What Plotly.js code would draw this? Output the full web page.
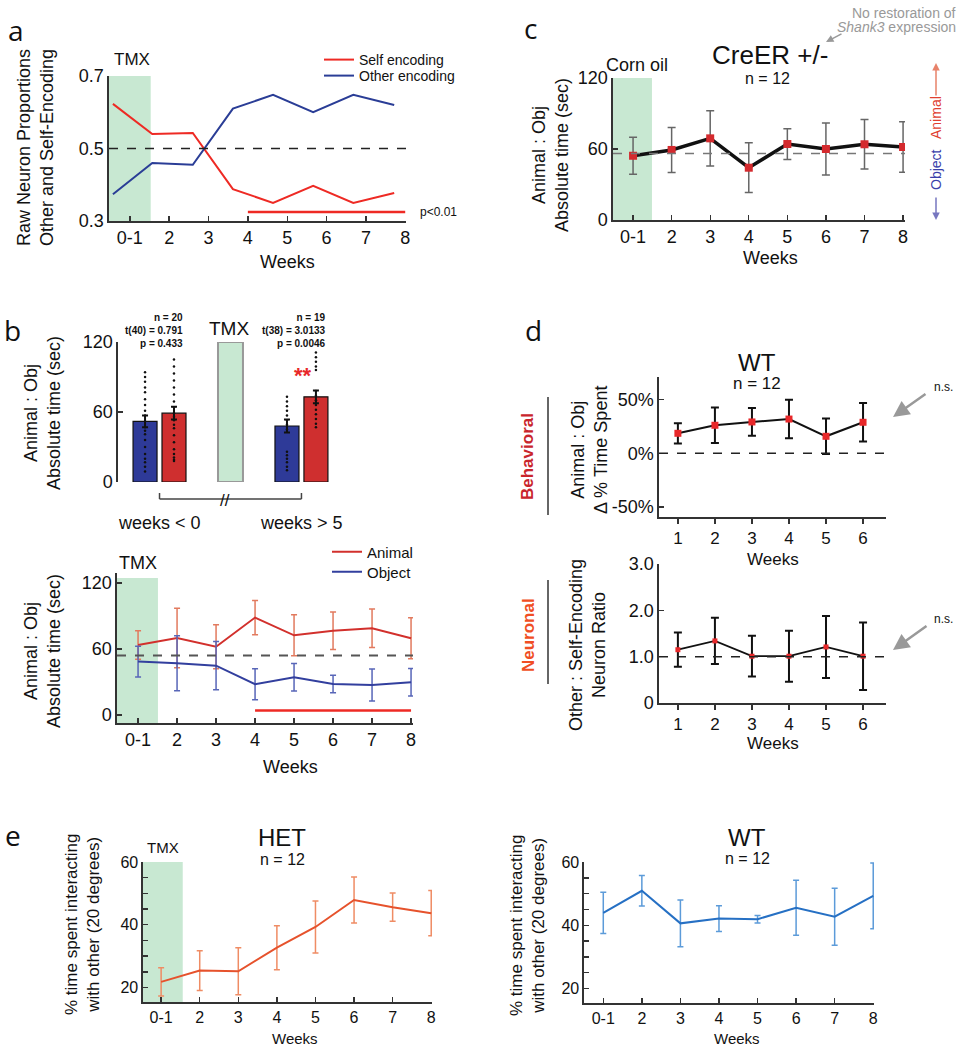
<!DOCTYPE html>
<html>
<head>
<meta charset="utf-8">
<script src="https://cdn.plot.ly/plotly-3.0.1.min.js"></script>
<style>
  html, body { margin: 0; padding: 0; background: #fff; }
  #fig { width: 964px; height: 1050px; }
</style>
</head>
<body>
<div id="fig"></div>
<script>
// shared week axis
var weekLabels = ['0-1', '2', '3', '4', '5', '6', '7', '8'];
var weekPos = [1, 2, 3, 4, 5, 6, 7, 8];
var dWeeks = [1, 2, 3, 4, 5, 6];

// a: raw neuron proportions (vertices sit a bit left of the ticks)
var weeksA = [0.57, 1.57, 2.6, 3.62, 4.64, 5.66, 6.68, 7.72];
var selfEncoding = [0.623, 0.540, 0.543, 0.388, 0.350, 0.397, 0.350, 0.377];
var otherEncoding = [0.374, 0.460, 0.455, 0.610, 0.648, 0.600, 0.648, 0.620];

// b top: bars before / after TMX
var groupsB = ['weeks &lt; 0', 'weeks &gt; 5'];
var objectMeanB = [52, 48];
var objectSemB = [5, 5.5];
var animalMeanB = [59, 73];
var animalSemB = [5.5, 5.5];
var objectPre = [94, 90, 86, 81, 77, 71, 66, 61, 57, 52, 47, 44, 41, 36, 30, 24, 20, 17, 13, 9];
var animalPre = [105, 99, 93, 87, 81, 75, 69, 64, 59, 56, 53, 49, 46, 40, 34, 28, 24, 21, 19, 18];
var objectPost = [73, 69, 65, 61, 57, 53, 49, 45, 26, 23, 20, 17, 13, 10];
var animalPost = [111, 107, 103, 99, 96, 78, 74, 70, 66, 62, 58, 54, 50, 47];

// b bottom: weekly animal / object time
var animalB2 = [63.6, 70, 62, 88.5, 72.4, 76.6, 78.8, 69.7];
var animalErrB2 = [13, 27, 20, 15.6, 18.7, 17, 17.5, 18.7];
var objectB2 = [48.5, 47, 44.8, 27.9, 34.3, 28.2, 27.3, 29.7];
var objectErrB2 = [14, 25, 22, 14, 12.5, 8, 14.5, 12.5];

// c: CreER +/- corn oil
var creMean = [54.3, 59.2, 69, 44.2, 64.2, 60, 64, 61.7];
var creErr = [15.7, 19, 23.4, 21, 13, 22, 21, 21.3];

// d: WT behavioural / neuronal
var wtBehav = [18.7, 26.2, 29.3, 32, 15.9, 29];
var wtBehavErr = [9.5, 16.5, 13, 18, 16.6, 18];
var wtNeuron = [1.15, 1.34, 1.01, 1.01, 1.21, 1.01];
var wtNeuronErr = [0.37, 0.5, 0.44, 0.55, 0.67, 0.73];

// e: % time interacting
var hetTime = [21.8, 25.4, 25.2, 32.7, 39.3, 47.9, 45.6, 43.7];
var hetErr = [4.5, 6.3, 7.5, 7, 8.3, 7.3, 4.5, 7.2];
var wtTime = [43.9, 50.9, 40.6, 42.1, 41.9, 45.5, 42.7, 49.3];
var wtErr = [6.5, 4.8, 7.4, 4.1, 1.2, 8.7, 9, 10.4];

// chance levels / significance windows
var chanceA = 0.5, chanceB2 = 54, chanceC = 56.3;
var sigWeeks = [4, 8];

var W = 964, H = 1050;
function px(x) { return x / W; }
function py(y) { return 1 - y / H; }
function xdom(a, b) { return [px(a), px(b)]; }
function ydom(top, bottom) { return [py(bottom), py(top)]; }

var GREEN = '#c8e8d2';

function ax(extra) {
  var base = {
    showgrid: false, zeroline: false, showline: true,
    linecolor: '#333', linewidth: 1.6,
    ticks: 'inside', ticklen: 5, tickwidth: 1.4, tickcolor: '#333',
    tickfont: {size: 18, color: '#111'},
    fixedrange: true
  };
  return Object.assign(base, extra);
}

function dots(vals, pos) {
  return {
    x: vals.map(function () { return pos; }), y: vals,
    xaxis: 'x2', yaxis: 'y2', mode: 'markers', showlegend: false,
    marker: {size: 2.5, color: '#111'}, hoverinfo: 'skip'
  };
}

var barW = 0.338, dotOff = 0.204;

var traces = [
  // a
  {x: weeksA, y: selfEncoding, xaxis: 'x', yaxis: 'y', mode: 'lines', name: 'Self encoding',
   legend: 'legend', line: {color: '#ee2a24', width: 2}},
  {x: weeksA, y: otherEncoding, xaxis: 'x', yaxis: 'y', mode: 'lines', name: 'Other encoding',
   legend: 'legend2', line: {color: '#2a3d96', width: 2}},

  // b top
  {type: 'bar', x: [0, 2], y: objectMeanB, xaxis: 'x2', yaxis: 'y2', width: barW, offset: -0.373,
   marker: {color: '#2e3a98', line: {color: '#111', width: 1.2}}, showlegend: false,
   error_y: {type: 'data', array: objectSemB, color: '#111', thickness: 2, width: 3}},
  {type: 'bar', x: [0, 2], y: animalMeanB, xaxis: 'x2', yaxis: 'y2', width: barW, offset: 0.035,
   marker: {color: '#cf2f2f', line: {color: '#111', width: 1.2}}, showlegend: false,
   error_y: {type: 'data', array: animalSemB, color: '#111', thickness: 2, width: 3}},
  dots(objectPre, 0 - dotOff), dots(animalPre, 0 + dotOff),
  dots(objectPost, 2 - dotOff), dots(animalPost, 2 + dotOff),

  // b bottom
  {x: weekPos, y: animalB2, xaxis: 'x3', yaxis: 'y3', mode: 'lines', name: 'Animal', legend: 'legend3',
   line: {color: '#d2302c', width: 2},
   error_y: {type: 'data', array: animalErrB2, color: '#e27a5e', thickness: 1.5, width: 3}},
  {x: weekPos, y: objectB2, xaxis: 'x3', yaxis: 'y3', mode: 'lines', name: 'Object', legend: 'legend4',
   line: {color: '#323f9e', width: 2},
   error_y: {type: 'data', array: objectErrB2, color: '#5866b8', thickness: 1.5, width: 3}},

  // c
  {x: weekPos, y: creMean, xaxis: 'x4', yaxis: 'y4', mode: 'lines+markers', showlegend: false,
   line: {color: '#111', width: 3.5}, marker: {symbol: 'square', size: 8, color: '#d42a2e'},
   error_y: {type: 'data', array: creErr, color: '#666', thickness: 1.5, width: 4}},

  // d
  {x: dWeeks, y: wtBehav, xaxis: 'x5', yaxis: 'y5', mode: 'lines+markers', showlegend: false,
   line: {color: '#111', width: 2}, marker: {symbol: 'square', size: 7, color: '#e8282a'},
   error_y: {type: 'data', array: wtBehavErr, color: '#111', thickness: 2, width: 4}},
  {x: dWeeks, y: wtNeuron, xaxis: 'x6', yaxis: 'y6', mode: 'lines+markers', showlegend: false,
   line: {color: '#111', width: 1.8}, marker: {symbol: 'square', size: 5, color: '#e8282a'},
   error_y: {type: 'data', array: wtNeuronErr, color: '#111', thickness: 2, width: 4}},

  // e
  {x: weekPos, y: hetTime, xaxis: 'x7', yaxis: 'y7', mode: 'lines', showlegend: false,
   line: {color: '#e6522c', width: 2},
   error_y: {type: 'data', array: hetErr, color: '#ef8c64', thickness: 1.5, width: 3}},
  {x: weekPos, y: wtTime, xaxis: 'x8', yaxis: 'y8', mode: 'lines', showlegend: false,
   line: {color: '#2670c4', width: 2},
   error_y: {type: 'data', array: wtErr, color: '#5c9bd9', thickness: 1.5, width: 3}}
];

function txt(x, y, text, size, extra) {
  return Object.assign({
    xref: 'paper', yref: 'paper', x: px(x), y: py(y), text: text, showarrow: false,
    xanchor: 'center', yanchor: 'middle', font: {size: size, color: '#111'}
  }, extra || {});
}
function arrow(x, y, fromX, fromY, color, w, size) {
  return {
    xref: 'paper', yref: 'paper', x: px(x), y: py(y), axref: 'pixel', ayref: 'pixel',
    ax: fromX - x, ay: fromY - y, text: '', showarrow: true,
    arrowhead: 2, arrowsize: size || 1, arrowwidth: w, arrowcolor: color
  };
}
var LETTER = {family: 'Open Sans, sans-serif', size: 28, color: '#111'};
var vert = {textangle: -90};

var annotations = [
  // a
  txt(16, 30, 'a', 28, {font: LETTER}),
  txt(132, 59, 'TMX', 17),
  txt(35, 148, 'Raw Neuron Proportions<br>Other and Self-Encoding', 18, vert),
  txt(287, 262, 'Weeks', 18),
  txt(418, 212, 'p&lt;0.01', 12, {xanchor: 'left'}),

  // b top
  txt(12, 330, 'b', 28, {font: LETTER}),
  txt(42, 413, 'Animal : Obj<br>Absolute time (sec)', 18, vert),
  txt(185, 330, '<b>n = 20<br>t(40) = 0.791<br>p = 0.433</b>', 10, {xanchor: 'right', align: 'right'}),
  txt(328, 330, '<b>n = 19<br>t(38) = 3.0133<br>p = 0.0046</b>', 10, {xanchor: 'right', align: 'right'}),
  txt(229, 328, 'TMX', 19),
  txt(303, 376, '<b>**</b>', 22, {font: {size: 22, color: '#e8282a'}}),
  txt(225, 500, '//', 17),
  {xref: 'x2', yref: 'paper', x: 0, y: py(523), text: groupsB[0], showarrow: false, font: {size: 18, color: '#111'}},
  {xref: 'x2', yref: 'paper', x: 2, y: py(523), text: groupsB[1], showarrow: false, font: {size: 18, color: '#111'}},

  // b bottom
  txt(138, 563, 'TMX', 18),
  txt(42, 651, 'Animal : Obj<br>Absolute time (sec)', 18, vert),
  txt(290, 767, 'Weeks', 18),

  // c
  txt(530, 28, 'c', 28, {font: LETTER}),
  txt(637, 65, 'Corn oil', 18),
  txt(770, 55, 'CreER +/-', 26),
  txt(767, 79, 'n = 12', 16),
  txt(958, 13, 'No restoration of', 14, {xanchor: 'right', font: {size: 14, color: '#999'}}),
  txt(958, 27, '<i>Shank3</i> expression', 14, {xanchor: 'right', font: {size: 14, color: '#999'}}),
  arrow(826, 42, 843, 33, '#999', 1.5),
  txt(550, 155, 'Animal : Obj<br>Absolute time (sec)', 18, vert),
  txt(770, 258, 'Weeks', 18),
  txt(936, 118, 'Animal', 14, {textangle: -90, font: {size: 14, color: '#e0402f'}}),
  txt(936, 170, 'Object', 14, {textangle: -90, font: {size: 14, color: '#3a3faa'}}),
  arrow(936, 63, 936, 97, '#e8826a', 1.5),
  arrow(936, 220, 936, 196, '#7777c0', 1.5),

  // d
  txt(533, 330, 'd', 28, {font: LETTER}),
  txt(757, 362, 'WT', 24),
  txt(757, 384, 'n = 12', 17),
  txt(528, 457, '<b>Behavioral</b>', 17, {textangle: -90, font: {size: 17, color: '#c9252c'}}),
  txt(589, 450, 'Animal : Obj<br>Δ % Time Spent', 18, vert),
  txt(773, 559, 'Weeks', 17),
  txt(943, 387, 'n.s.', 12),
  arrow(893, 417, 927, 393, '#999', 2.5, 1.3),
  txt(528, 635, '<b>Neuronal</b>', 17, {textangle: -90, font: {size: 17, color: '#f04e23'}}),
  txt(587, 645, 'Other : Self-Encoding<br>Neuron Ratio', 18, vert),
  txt(773, 743, 'Weeks', 17),
  txt(943, 619, 'n.s.', 12),
  arrow(893, 650, 928, 625, '#999', 2.5, 1.3),

  // e
  txt(13, 835, 'e', 28, {font: LETTER}),
  txt(163, 847, 'TMX', 15),
  txt(282, 837, 'HET', 24),
  txt(282, 859, 'n = 12', 16),
  txt(82, 925, '% time spent interacting<br>with other (20 degrees)', 17, vert),
  txt(295, 1038, 'Weeks', 15),
  txt(747, 837, 'WT', 24),
  txt(747, 858, 'n = 12', 16),
  txt(527, 926, '% time spent interacting<br>with other (20 degrees)', 17, vert),
  txt(737, 1038, 'Weeks', 15)
];

function band(xa, ya, x0, x1, y0, y1) {
  return {type: 'rect', xref: xa, yref: ya, x0: x0, x1: x1, y0: y0, y1: y1,
          fillcolor: GREEN, line: {width: 0}, layer: 'below'};
}
function hdash(xa, ya, y, color, w) {
  return {type: 'line', xref: xa + ' domain', yref: ya, x0: 0, x1: 1, y0: y, y1: y,
          line: {color: color, width: w, dash: 'dash'}};
}
function sig(xa, ya, y) {
  return {type: 'line', xref: xa, yref: ya, x0: sigWeeks[0], x1: sigWeeks[1], y0: y, y1: y,
          line: {color: '#ee2a24', width: 2.5}};
}
function pline(x0, y0, x1, y1) {
  return {type: 'line', xref: 'paper', yref: 'paper', x0: px(x0), y0: py(y0), x1: px(x1), y1: py(y1),
          line: {color: '#333', width: 1.5}};
}

var shapes = [
  band('x', 'y', 0.47, 1.53, 0.3, 0.7),
  hdash('x', 'y', chanceA, '#222', 1.5),
  sig('x', 'y', 0.325),

  // TMX block in b top
  {type: 'rect', xref: 'x2', yref: 'y2', x0: 1 - 0.176, x1: 1 + 0.176, y0: 0, y1: 120,
   fillcolor: GREEN, line: {color: '#999', width: 2}},
  // bracket under the bars
  {type: 'line', xref: 'x2', yref: 'paper', x0: 0, x1: 2, y0: py(499), y1: py(499), line: {color: '#444', width: 1.5}},
  {type: 'line', xref: 'x2', yref: 'paper', x0: 0, x1: 0, y0: py(493), y1: py(499), line: {color: '#444', width: 1.5}},
  {type: 'line', xref: 'x2', yref: 'paper', x0: 2, x1: 2, y0: py(493), y1: py(499), line: {color: '#444', width: 1.5}},

  band('x3', 'y3', 0.46, 1.51, -7.3, 124.5),
  hdash('x3', 'y3', chanceB2, '#555', 2),
  sig('x3', 'y3', 4),

  band('x4', 'y4', 0.48, 1.49, 0, 120),
  hdash('x4', 'y4', chanceC, '#777', 1.5),

  hdash('x5', 'y5', 0, '#222', 1.5),
  hdash('x6', 'y6', 1, '#222', 1.5),
  pline(548, 397, 548, 515),
  pline(548, 580, 548, 684),

  band('x7', 'y7', 0.53, 1.56, 15.4, 60)
];

var weekTicks = {tickvals: weekPos, ticktext: weekLabels};
var eMinor = {dtick: 5, tick0: 0, ticks: 'inside', ticklen: 5, tickcolor: '#333'};

// one legend per entry so each row lands where the reference has it
function leg(x, y, size) {
  return {x: px(x), y: py(y), xanchor: 'left', yanchor: 'middle', bgcolor: 'rgba(0,0,0,0)',
          font: {size: size}, itemwidth: 30, tracegroupgap: 0};
}

var layout = {
  width: W, height: H,
  margin: {l: 0, r: 0, t: 0, b: 0},
  paper_bgcolor: '#fff', plot_bgcolor: 'rgba(0,0,0,0)',
  font: {family: 'Liberation Sans, Arial, sans-serif', color: '#111'},
  barmode: 'overlay',
  showlegend: true,
  legend: leg(319, 60, 14),
  legend2: leg(319, 76, 14),
  legend3: leg(327, 552, 15),
  legend4: leg(327, 572, 15),

  xaxis: ax(Object.assign({domain: xdom(109, 406), anchor: 'y', range: [0.47, 8.02]}, weekTicks)),
  yaxis: ax({domain: ydom(76, 221), anchor: 'x', range: [0.3, 0.7], tickvals: [0.3, 0.5, 0.7], ticktext: ['0.3', '0.5', '0.7']}),

  xaxis2: {domain: xdom(118, 338), anchor: 'y2', range: [-0.585, 2.515], visible: false, fixedrange: true},
  yaxis2: ax({domain: ydom(342, 482), anchor: 'x2', range: [0, 120], tickvals: [0, 60, 120]}),

  xaxis3: ax(Object.assign({domain: xdom(117, 413), anchor: 'y3', range: [0.46, 8.05]}, weekTicks)),
  yaxis3: ax({domain: ydom(573, 723), anchor: 'x3', range: [-7.3, 129], tickvals: [0, 60, 120]}),

  xaxis4: ax(Object.assign({domain: xdom(613, 905), anchor: 'y4', range: [0.48, 8.05]}, weekTicks)),
  yaxis4: ax({domain: ydom(78, 220), anchor: 'x4', range: [0, 120], tickvals: [0, 60, 120]}),

  xaxis5: ax({domain: xdom(659, 886), anchor: 'y5', range: [0.49, 6.62], tickvals: dWeeks, ticks: 'outside', tickfont: {size: 17, color: '#111'}}),
  yaxis5: ax({domain: ydom(377, 517), anchor: 'x5', range: [-59.5, 71.3], tickvals: [-50, 0, 50], ticktext: ['-50%', '0%', '50%']}),

  xaxis6: ax({domain: xdom(659, 886), anchor: 'y6', range: [0.49, 6.62], tickvals: dWeeks, ticks: 'outside', tickfont: {size: 17, color: '#111'}}),
  yaxis6: ax({domain: ydom(564, 703), anchor: 'x6', range: [0, 3], tickvals: [0, 1, 2, 3], ticktext: ['0', '1.0', '2.0', '3.0']}),

  xaxis7: ax(Object.assign({domain: xdom(143, 432), anchor: 'y7', range: [0.53, 8.02], tickfont: {size: 16, color: '#111'}}, weekTicks)),
  yaxis7: ax({domain: ydom(862, 1002), anchor: 'x7', range: [15.4, 60], tickvals: [20, 40, 60], minor: eMinor, tickfont: {size: 16, color: '#111'}}),

  xaxis8: ax(Object.assign({domain: xdom(584, 874), anchor: 'y8', range: [0.5, 8.02], tickfont: {size: 16, color: '#111'}}, weekTicks)),
  yaxis8: ax({domain: ydom(862, 1003), anchor: 'x8', range: [15.4, 60], tickvals: [20, 40, 60], minor: eMinor, tickfont: {size: 16, color: '#111'}}),

  shapes: shapes,
  annotations: annotations
};

Plotly.newPlot('fig', traces, layout, {displayModeBar: false, staticPlot: true});
</script>
</body>
</html>
